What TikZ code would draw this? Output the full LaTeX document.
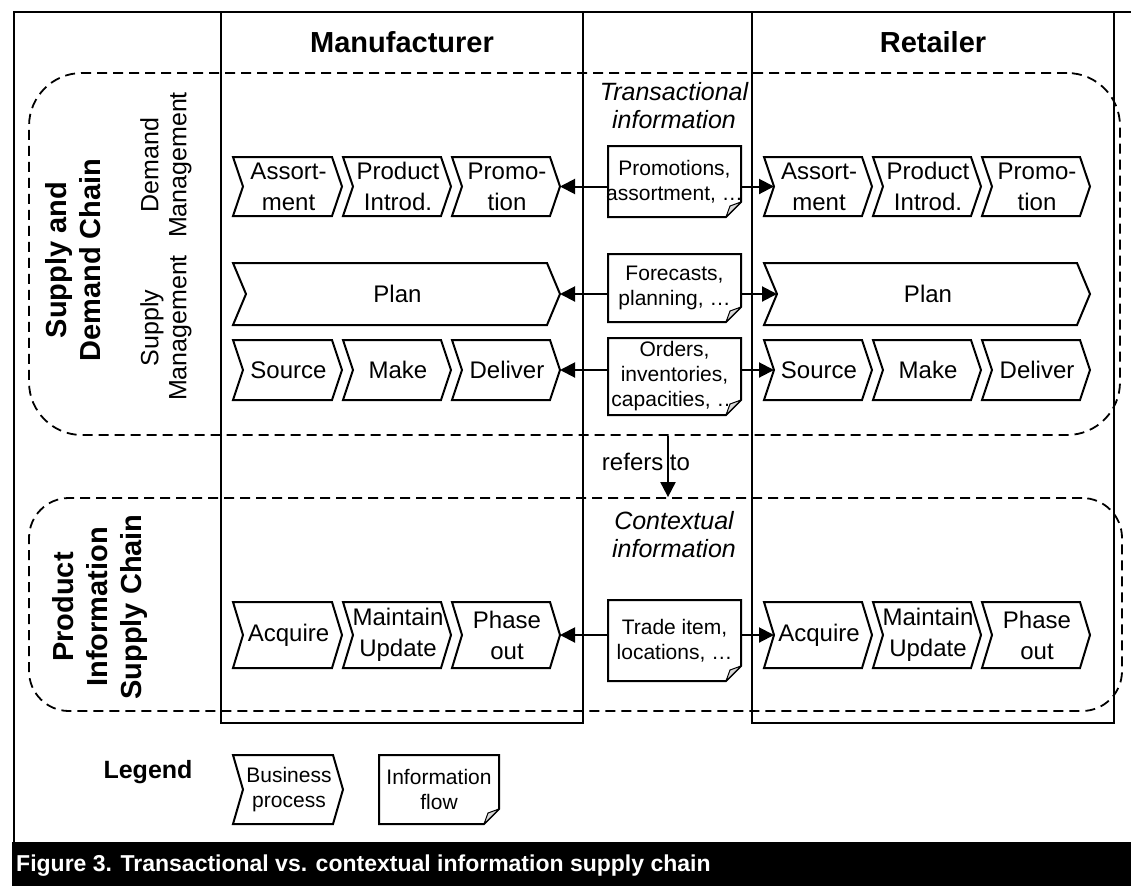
\documentclass[tikz,border=0pt]{standalone}
\usepackage{fontspec}
\setmainfont{Liberation Sans}
\usetikzlibrary{arrows.meta,calc}
\newcommand{\fsz}[2]{\fontsize{#1pt}{#2pt}\selectfont}

% business process chevron: [text style], name, x1, x2, y1, y2, point depth, text
\newcommand{\procbox}[8][proctext]{%
  \node[shapebox, minimum width={(#4)-(#3)}, minimum height={(#6)-(#5)}] (#2)
    at ({((#3)+(#4))/2},{((#5)+(#6))/2}) {};
  \draw[procline] (#2.north west) -- ($(#2.north east)+(-#7,0)$) -- (#2.east)
    -- ($(#2.south east)+(-#7,0)$) -- (#2.south west) -- ($(#2.west)+(#7,0)$) -- cycle;
  \coordinate (#2-in) at ($(#2.west)+(#7,0)$);
  \node[#1] (#2-t) at ($(#2.center)+(1,0)$) {#8};
}

% information flow document with folded corner: name, x1, x2, y1, y2, text
\newcommand{\docbox}[6]{%
  \node[shapebox, minimum width={(#3)-(#2)}, minimum height={(#5)-(#4)}] (#1)
    at ({((#2)+(#3))/2},{((#4)+(#5))/2}) {};
  \node[doctext] (#1-t) at (#1.center) {#6};
  \fill[white] ($(#1.south east)+(0,-15)$) -- ($(#1.south east)+(2,2)$) -- ($(#1.south east)+(-15,0)$) -- cycle;
  \draw[docline] (#1.north west) -- (#1.north east) -- ($(#1.south east)+(0,-15)$)
    -- ($(#1.south east)+(-15,0)$) -- (#1.south west) -- cycle;
  \filldraw[fill=gray!30, line width=1pt, line join=round] ($(#1.south east)+(-15,0)$)
    -- ($(#1.south east)+(-11,-11)$) -- ($(#1.south east)+(0,-15)$) -- cycle;
}

\tikzset{
  frameline/.style={line width=2.5pt},
  column/.style={draw, line width=1.5pt, rectangle, inner sep=0pt},
  chain/.style={draw, line width=1.8pt, dash pattern=on 10pt off 6pt, rectangle, inner sep=0pt},
  shapebox/.style={rectangle, inner sep=0pt, outer sep=0pt},
  procline/.style={line width=2pt, line join=miter},
  proctext/.style={inner sep=0pt, align=center, font=\fsz{24}{31}},
  legendtext/.style={inner sep=0pt, align=center, font=\fsz{21}{25}},
  doctext/.style={inner sep=0pt, align=center, font=\fsz{21}{25}},
  docline/.style={line width=2pt},
  flow/.style={line width=2pt, -{Triangle[length=15pt,width=15pt]}},
  title/.style={font=\bfseries\fsz{29}{34}},
  sidelabel/.style={rotate=90, align=center, font=\bfseries\fsz{29}{34}},
  sublabel/.style={rotate=90, align=center, font=\fsz{25}{28}},
  note/.style={align=center, font=\itshape\fsz{25}{28}},
}

\begin{document}
\begin{tikzpicture}[x=1pt,y=-1pt]
\useasboundingbox (0,0) rectangle (1131,886);

% outer frame
\draw[frameline] (14,842) -- (14,12) -- (1131,12);

% party columns
\node[column, minimum width=362pt, minimum height=711pt] (man) at (402,367.5) {};
\node[column, minimum width=362pt, minimum height=711pt] (ret) at (933,367.5) {};
\node[title] (mantitle) at (402,42) {Manufacturer};
\node[title] (rettitle) at (933,42) {Retailer};

% chains
\node[chain, rounded corners=53pt, minimum width=1091pt, minimum height=362pt] (sdc) at (574.5,254) {};
\node[chain, rounded corners=40pt, minimum width=1093pt, minimum height=213pt] (pisc) at (575.5,604.5) {};

% chain labels
\node[sidelabel] (sdclabel) at (73,260) {Supply and\\Demand Chain};
\node[sublabel] (dmlabel) at (166,165) {Demand\\Management};
\node[sublabel] (smlabel) at (166,328) {Supply\\Management};
\node[sidelabel] (pisclabel) at (100,607) {Product\\Information\\Supply Chain};

% demand management processes
\procbox{ma}{233}{342}{157}{216}{10}{Assort-\\ment}
\procbox{mb}{343}{451}{157}{216}{10}{Product\\Introd.}
\procbox{mc}{452}{560}{157}{216}{10}{Promo-\\tion}
\procbox{ra}{764}{872}{157}{216}{10}{Assort-\\ment}
\procbox{rb}{873}{981}{157}{216}{10}{Product\\Introd.}
\procbox{rc}{982}{1090}{157}{216}{10}{Promo-\\tion}

% supply management processes
\procbox{mplan}{233}{560}{263}{325}{13}{Plan}
\procbox{rplan}{764}{1090}{263}{325}{13}{Plan}
\procbox{msrc}{233}{342}{340}{400}{10}{Source}
\procbox{mmake}{343}{451}{340}{400}{10}{Make}
\procbox{mdel}{452}{560}{340}{400}{10}{Deliver}
\procbox{rsrc}{764}{872}{340}{400}{10}{Source}
\procbox{rmake}{873}{981}{340}{400}{10}{Make}
\procbox{rdel}{982}{1090}{340}{400}{10}{Deliver}

% product information processes
\procbox{macq}{233}{342}{602}{668}{10}{Acquire}
\procbox{mmnt}{343}{451}{602}{668}{10}{Maintain\\Update}
\procbox{mph}{452}{560}{602}{668}{10}{Phase\\out}
\procbox{racq}{764}{872}{602}{668}{10}{Acquire}
\procbox{rmnt}{873}{981}{602}{668}{10}{Maintain\\Update}
\procbox{rph}{982}{1090}{602}{668}{10}{Phase\\out}

% exchanged information
\node[note] (trans) at (674,106) {Transactional\\information};
\docbox{d1}{608}{741}{146}{217}{Promotions,\\assortment, …}
\docbox{d2}{608}{741}{254}{322}{Forecasts,\\planning, …}
\docbox{d3}{608}{741}{338}{415}{Orders,\\inventories,\\capacities, …}
\node[note] (ctx) at (674,535) {Contextual\\information};
\docbox{d4}{608}{741}{600}{681}{Trade item,\\locations, …}

% information flows
\draw[flow] (mc.east -| d1.west) -- (mc.east);
\draw[flow] (ra-in -| d1.east) -- (ra-in);
\draw[flow] (mplan.east -| d2.west) -- (mplan.east);
\draw[flow] (rplan-in -| d2.east) -- (rplan-in);
\draw[flow] (mdel.east -| d3.west) -- (mdel.east);
\draw[flow] (rsrc-in -| d3.east) -- (rsrc-in);
\draw[flow] (mph.east -| d4.west) -- (mph.east);
\draw[flow] (racq-in -| d4.east) -- (racq-in);

% relation between the chains
\node[font=\fsz{24}{28}, inner sep=0pt] (refers) at (646,462) {refers to};
\coordinate (refx) at (668,0);
\draw[flow] (sdc.south -| refx) -- (pisc.north -| refx);

% legend
\node[font=\bfseries\fsz{25}{28}, inner sep=0pt] (legend) at (148,772) {Legend};
\procbox[legendtext]{lproc}{233}{343}{755}{824}{10}{Business\\process}
\docbox{ldoc}{379}{499}{755}{824}{Information\\flow}

% caption bar
\node[fill=black, minimum width=1119pt, minimum height=44pt, inner sep=0pt, anchor=north west] (capbar) at (12,842) {};
\node[anchor=west, text=white, font=\bfseries\fsz{23}{27}, inner sep=0pt] (caption) at ($(capbar.west)+(4,1)$)
  {Figure 3. Transactional vs. contextual information supply chain};
\end{tikzpicture}
\end{document}
